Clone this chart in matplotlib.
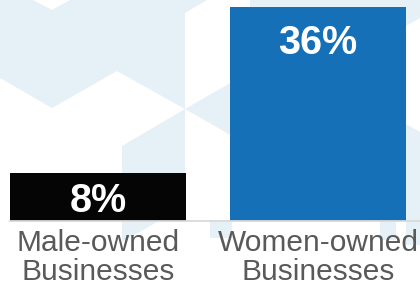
import matplotlib
matplotlib.use("Agg")
import matplotlib.pyplot as plt
from matplotlib.patches import Polygon

categories = ["Male-owned\nBusinesses", "Women-owned\nBusinesses"]
values = [8, 36]
value_labels = ["8%", "36%"]
bar_colors = ["#050505", "#1570b8"]

W, H = 420, 289
fig = plt.figure(figsize=(W / 100, H / 100), dpi=100)
fig.patch.set_facecolor("white")

# light decorative hexagon background (pixel coords, top-left origin)
pale = "#e6f0f7"
bg_shapes = [
    [(0, 0), (33, 0), (52, 10), (70, 0), (207, 0), (185, 13), (185, 109),
     (117, 71), (52, 108), (0, 78)],
    [(185, 109), (122, 146), (122, 242), (185, 206)],
    [(185, 109), (232, 82), (232, 136)],
    [(250, 0), (420, 0), (420, 18), (406, 26), (406, 8), (250, 8)],
    [(406, 124), (420, 132), (420, 245), (406, 245)],
    [(210, 222), (232, 222), (232, 238), (210, 238)],
    [(380, 222), (396, 222), (396, 240), (380, 240)],
]
for pts in bg_shapes:
    fig.patches.append(Polygon([(x / W, 1 - y / H) for x, y in pts],
                               closed=True, transform=fig.transFigure,
                               facecolor=pale, edgecolor="none", zorder=0))

ax = fig.add_axes([10 / W, (H - 221) / H, 410 / W, 221 / H])
ax.patch.set_alpha(0)
ax.set_zorder(1)

x = range(len(values))
bars = ax.bar(x, values, width=0.8, color=bar_colors, zorder=2)
ax.set_xlim(-0.4, 1.4626)
ax.set_ylim(0, 37.15)

px_per_unit = 221 / 37.15
for i, v in enumerate(values):
    bar_px = v * px_per_unit
    off_px = min(bar_px / 2 + 14.5, 47)
    ax.annotate(value_labels[i], xy=(i, v), xytext=(0, -off_px * 0.72),
                textcoords="offset points", ha="center", va="baseline",
                color="white", fontsize=28.5, fontweight="bold",
                family="Liberation Sans", zorder=3)

for s in ["top", "right", "left"]:
    ax.spines[s].set_visible(False)
ax.spines["bottom"].set_color("#d9d9d9")
ax.spines["bottom"].set_linewidth(1.3)
ax.set_yticks([])
ax.set_xticks(list(x))
ax.set_xticklabels(categories, fontsize=21.5, color="#595959",
                   family="Liberation Sans", linespacing=1.05)
ax.tick_params(axis="x", length=0, pad=6)

fig.savefig("out.png", dpi=100)
